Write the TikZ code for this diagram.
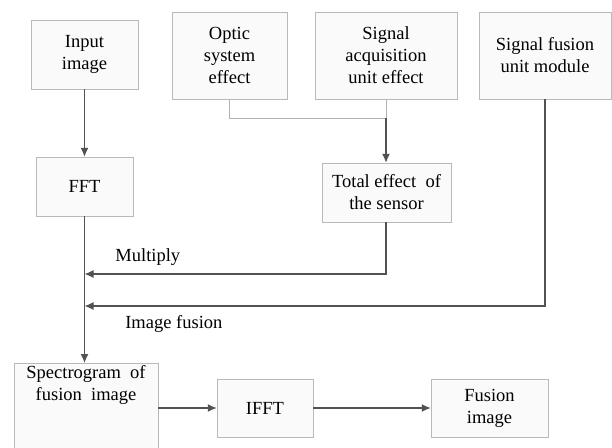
\documentclass[tikz,border=0pt]{standalone}
\usepackage{fontspec}
\setmainfont{Liberation Serif}
\usetikzlibrary{shapes,arrows,arrows.meta,shadows}

\begin{document}
\begin{tikzpicture}[x=1pt, y=1pt, node distance=132pt]
    % styles of the boxes and lines
    \tikzstyle{block} = [rectangle, minimum height=59pt, text centered, align=center, draw=gray!55, fill=gray!4, inner sep=2pt, drop shadow={opacity=0.25, shadow xshift=1.2pt, shadow yshift=-1.2pt}]
    \tikzstyle{tall} = [block, minimum height=87pt]
    \tikzstyle{arrow} = [line width=1.3pt, draw=black!68, -{Latex[length=9pt,width=8pt]}]
    \tikzstyle{thin} = [line width=1pt, draw=gray!60]
    \tikzstyle{lbl} = [font=\fontsize{18.5}{22}\selectfont]

    \fontsize{18.5}{22}\selectfont
    \useasboundingbox (0,0) rectangle (612,-447);

    % top row
    \node [block, minimum width=107pt, minimum height=69pt] (input) at (84.5,-54.5) {Input\\image};
    \node [tall, minimum width=115pt] (optic) at (229.5,-55.5) {Optic\\system\\effect};
    \node [tall, minimum width=142pt, right of=optic, node distance=156.5pt] (acq) {Signal\\acquisition\\unit effect};
    \node [tall, minimum width=132pt, right of=acq, node distance=159pt] (sfu) {Signal fusion\\unit module};

    % middle row
    \node [block, minimum width=97pt, below of=input] (fft) {FFT};
    \node [block, minimum width=129pt, below of=acq, node distance=137pt, xshift=0.5pt] (total) {Total effect~~of\\the sensor};

    % bottom row
    \node [block, minimum width=144pt, text depth=80pt, anchor=north] (spec) at (86,-363) {Spectrogram~~of\\fusion~~image};
    \node [block, minimum width=96pt, minimum height=58pt] (ifft) at (265,-408) {IFFT};
    \node [block, minimum width=117pt, minimum height=58pt, right of=ifft, node distance=224.5pt] (fus) {Fusion\\image};

    \coordinate (joint) at (386,-118);
    \coordinate (mul) at (84.5,-274);
    \coordinate (imf) at (84.5,-306);

    % connectors
    \draw [arrow] (input) -- (fft);
    \draw [thin] (optic.south) |- (joint);
    \draw [thin] (acq.south) -- (joint);
    \draw [arrow] (joint) -- (total.north -| joint);
    \draw [arrow] (total.south -| joint) |- node[lbl, anchor=south, pos=0.895, yshift=2pt] {Multiply} (mul);
    \draw [arrow] (sfu) |- node[lbl, anchor=north, pos=0.903, yshift=-3pt] {Image fusion} (imf);
    \draw [arrow] (fft) -- (fft |- spec.north);
    \draw [arrow] (spec.east |- ifft) -- (ifft);
    \draw [arrow] (ifft) -- (fus);
\end{tikzpicture}
\end{document}
